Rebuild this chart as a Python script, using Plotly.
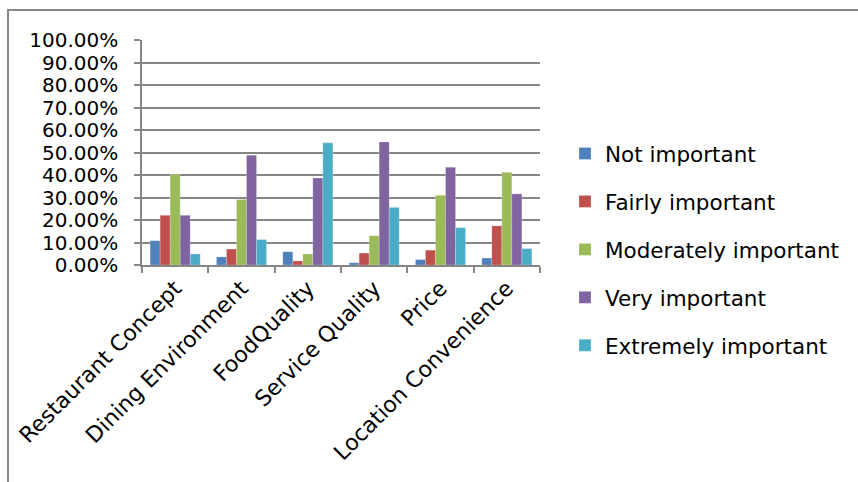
import plotly.graph_objects as go

categories = ["Restaurant Concept", "Dining Environment", "FoodQuality",
              "Service Quality", "Price", "Location Convenience"]

not_important = [0.108, 0.036, 0.059, 0.010, 0.024, 0.031]
fairly_important = [0.221, 0.071, 0.018, 0.053, 0.066, 0.174]
moderately_important = [0.402, 0.291, 0.049, 0.130, 0.310, 0.412]
very_important = [0.221, 0.488, 0.387, 0.547, 0.435, 0.316]
extremely_important = [0.049, 0.113, 0.543, 0.256, 0.166, 0.073]

series = [
    ("Not important", not_important, "#4F81BD"),
    ("Fairly important", fairly_important, "#C0504D"),
    ("Moderately important", moderately_important, "#9BBB59"),
    ("Very important", very_important, "#8064A2"),
    ("Extremely important", extremely_important, "#4BACC6"),
]

W, H = 858, 482
L, R, T, B = 142, 318, 40, 217
font = "DejaVu Sans, sans-serif"

fig = go.Figure()
for name, vals, color in series:
    fig.add_trace(go.Bar(
        x=categories, y=vals, name=name, legendgroup=name,
        marker=dict(color=color, line=dict(color="rgba(255,255,255,0.35)", width=0.6)),
    ))

pw, ph = W - L - R, H - T - B


def px(x):
    return (x - L) / pw


def py(y):
    return 1 - (y - T) / ph


fig.update_layout(
    width=W, height=H,
    margin=dict(l=L, r=R, t=T, b=B, autoexpand=False),
    paper_bgcolor="white", plot_bgcolor="white",
    barmode="group", bargap=0.245, bargroupgap=0,
    font=dict(family=font, size=20, color="#000000"),
    showlegend=True,
    legend=dict(
        x=px(565), y=py(133), xanchor="left", yanchor="top",
        font=dict(size=21.5), tracegroupgap=17, itemwidth=30,
        bgcolor="rgba(0,0,0,0)", maxheight=400,
    ),
    xaxis=dict(
        showline=True, linecolor="#868686", linewidth=1.5,
        ticks="outside", tickson="boundaries", ticklen=6, tickcolor="#868686",
        tickwidth=1.5, tickangle=-45, showgrid=False,
        tickfont=dict(size=22),
    ),
    yaxis=dict(
        range=[0, 1], dtick=0.1, tickformat=".2%",
        showline=True, linecolor="#868686", linewidth=1.5,
        showgrid=True, gridcolor="#868686", gridwidth=1.5,
        ticks="outside", ticklen=6, tickcolor="#868686", tickwidth=1.5,
        ticklabelstandoff=12,
        tickfont=dict(size=20),
        zeroline=False,
    ),
    shapes=[dict(
        type="rect", xref="paper", yref="paper", layer="below",
        x0=px(8), x1=px(900), y0=py(520), y1=py(10),
        line=dict(color="#868686", width=2), fillcolor="rgba(0,0,0,0)",
    )],
)

fig.write_html("out.html")
